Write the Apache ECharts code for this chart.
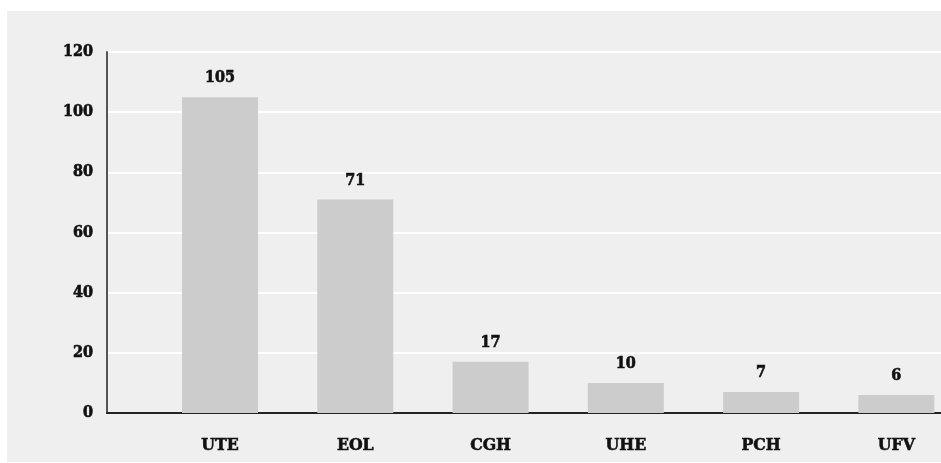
<!DOCTYPE html>
<html>
<head>
<meta charset="utf-8">
<script src="https://cdn.jsdelivr.net/npm/echarts@6/dist/echarts.min.js"></script>
<style>
  html, body { margin: 0; padding: 0; background: #ffffff; overflow: hidden; width: 941px; height: 463px; }
  /* the plot runs past the page's right edge and is cut off there */
  #chart { position: absolute; left: 7px; top: 11px; width: 957px; height: 451px; }
</style>
</head>
<body>
<div id="chart"></div>
<script>
// Plant types and their counts
const categories = ['UTE', 'EOL', 'CGH', 'UHE', 'PCH', 'UFV'];
const counts = [105, 71, 17, 10, 7, 6];
// Value axis ticks
const yTicks = [0, 20, 40, 60, 80, 100, 120];

const FONT = '"DejaVu Serif Condensed", "DejaVu Serif", serif';
// heavy slab-style text: bold face plus a thin outline in the same colour
const textStyle = {
  fontFamily: FONT, fontWeight: 'bold', fontSize: 16, color: '#111111',
  textBorderColor: '#111111', textBorderWidth: 0.6
};

const chart = echarts.init(document.getElementById('chart'));
chart.setOption({
  backgroundColor: '#efefef',
  animation: false,
  grid: [
    // frame: axis lines and gridlines
    { left: 100, right: 23, top: 41, bottom: 49 },
    // bars and category labels
    { left: 145.4, right: 0, top: 41, bottom: 49 }
  ],
  xAxis: [
    {
      gridIndex: 0, type: 'category', data: categories,
      axisLine: { show: true, lineStyle: { color: '#222', width: 2 } },
      axisTick: { show: false }, axisLabel: { show: false }, splitLine: { show: false }
    },
    {
      gridIndex: 1, type: 'category', data: categories,
      axisLine: { show: false }, axisTick: { show: false },
      axisLabel: Object.assign({}, textStyle, { margin: 23, fontSize: 17.5 })
    }
  ],
  yAxis: [
    {
      gridIndex: 0, type: 'value', min: yTicks[0], max: yTicks[yTicks.length - 1], interval: 20,
      axisLine: { show: true, lineStyle: { color: '#555', width: 2 } },
      axisTick: { show: false },
      axisLabel: Object.assign({ margin: 14 }, textStyle),
      splitLine: { show: true, lineStyle: { color: '#ffffff', width: 2 } }
    },
    {
      gridIndex: 1, type: 'value', min: yTicks[0], max: yTicks[yTicks.length - 1], interval: 20,
      show: false
    }
  ],
  series: [{
    type: 'bar',
    xAxisIndex: 1, yAxisIndex: 1,
    data: counts,
    barWidth: 76,
    itemStyle: { color: '#cccccc' },
    label: Object.assign({ show: true, position: 'top', distance: 11 }, textStyle)
  }]
});
</script>
</body>
</html>
